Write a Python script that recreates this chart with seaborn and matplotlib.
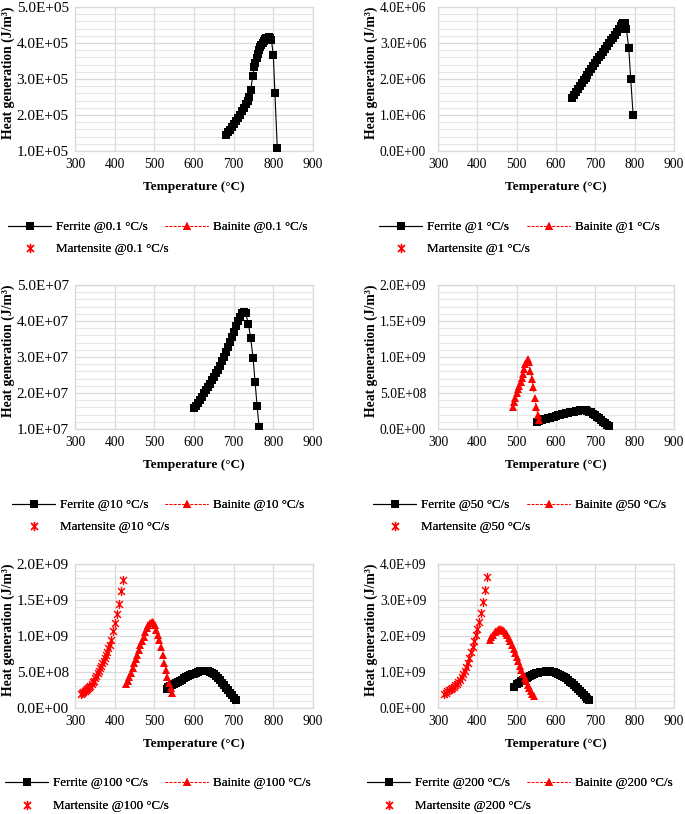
import numpy as np
import matplotlib
matplotlib.use("Agg")
import matplotlib.pyplot as plt
import seaborn as sns
from matplotlib.lines import Line2D
from matplotlib.path import Path
from matplotlib.ticker import MultipleLocator, AutoMinorLocator, FuncFormatter

# cooling rates shown in the six panels
rates = ["0.1", "1", "10", "50", "100", "200"]

# ferrite curves (temperature in C, heat generation in J/m3)
f01_T = [680, 685, 690, 695, 700, 705, 710, 715, 720, 725, 730, 735, 738, 743, 748, 752, 755,
         758, 761, 764, 767, 770, 773, 776, 779, 782, 785, 788, 791, 795, 800, 804, 810]
f01_q = [1.45e5, 1.52e5, 1.59e5, 1.67e5, 1.75e5, 1.83e5, 1.92e5, 2.01e5, 2.10e5, 2.20e5, 2.30e5,
         2.40e5, 2.50e5, 2.70e5, 3.08e5, 3.34e5, 3.45e5, 3.58e5, 3.70e5, 3.80e5, 3.88e5, 3.95e5,
         4.01e5, 4.06e5, 4.10e5, 4.13e5, 4.15e5, 4.16e5, 4.15e5, 4.09e5, 3.66e5, 2.60e5, 1.07e5]

f1_T = [640, 645, 650, 655, 660, 665, 670, 675, 680, 685, 690, 695, 700, 705, 710, 715, 720,
        725, 730, 735, 740, 745, 750, 755, 760, 765, 768, 771, 775, 779, 785, 790, 796]
f1_q = [1.48e6, 1.56e6, 1.64e6, 1.72e6, 1.80e6, 1.88e6, 1.96e6, 2.04e6, 2.12e6, 2.20e6, 2.28e6,
        2.36e6, 2.44e6, 2.52e6, 2.60e6, 2.68e6, 2.76e6, 2.84e6, 2.92e6, 3.00e6, 3.07e6, 3.14e6,
        3.22e6, 3.30e6, 3.39e6, 3.47e6, 3.53e6, 3.56e6, 3.56e6, 3.38e6, 2.86e6, 1.99e6, 1.01e6]

f10_T = [600, 605, 610, 615, 620, 625, 630, 635, 640, 645, 650, 655, 660, 665, 670, 675, 680,
         685, 690, 695, 700, 705, 710, 715, 720, 725, 730, 737, 743, 749, 754, 759, 764]
f10_q = [1.58e7, 1.65e7, 1.73e7, 1.81e7, 1.90e7, 1.99e7, 2.08e7, 2.17e7, 2.26e7, 2.35e7, 2.45e7,
         2.55e7, 2.65e7, 2.76e7, 2.88e7, 3.00e7, 3.13e7, 3.27e7, 3.41e7, 3.56e7, 3.70e7, 3.85e7,
         3.99e7, 4.12e7, 4.21e7, 4.25e7, 4.22e7, 3.92e7, 3.52e7, 2.96e7, 2.30e7, 1.65e7, 1.06e7]

f50_T = [552, 556, 560, 565, 570, 575, 580, 585, 590, 595, 600, 605, 610, 615, 620, 625, 630,
         635, 640, 645, 650, 655, 660, 665, 670, 675, 680, 685, 690, 695, 700, 705, 710, 715,
         720, 725, 730, 734]
f50_q = [0.100e9, 0.112e9, 0.120e9, 0.128e9, 0.135e9, 0.143e9, 0.150e9, 0.158e9, 0.165e9,
         0.173e9, 0.180e9, 0.188e9, 0.195e9, 0.203e9, 0.210e9, 0.217e9, 0.224e9, 0.231e9,
         0.237e9, 0.243e9, 0.248e9, 0.253e9, 0.257e9, 0.260e9, 0.260e9, 0.258e9, 0.252e9,
         0.243e9, 0.230e9, 0.214e9, 0.195e9, 0.173e9, 0.150e9, 0.126e9, 0.102e9, 0.080e9,
         0.060e9, 0.045e9]

f100_T = [532, 535, 540, 545, 550, 555, 560, 565, 570, 575, 580, 585, 590, 595, 600, 605, 610,
          615, 620, 625, 630, 635, 640, 645, 650, 655, 660, 665, 670, 675, 680, 685, 690, 695,
          700, 706]
f100_q = [0.270e9, 0.285e9, 0.300e9, 0.320e9, 0.335e9, 0.350e9, 0.365e9, 0.380e9, 0.395e9,
          0.410e9, 0.425e9, 0.440e9, 0.455e9, 0.467e9, 0.478e9, 0.490e9, 0.500e9, 0.508e9,
          0.515e9, 0.520e9, 0.520e9, 0.515e9, 0.505e9, 0.490e9, 0.470e9, 0.445e9, 0.415e9,
          0.385e9, 0.350e9, 0.315e9, 0.280e9, 0.245e9, 0.210e9, 0.175e9, 0.140e9, 0.110e9]

f200_T = [494, 500, 505, 510, 515, 520, 525, 530, 535, 540, 545, 550, 555, 560, 565, 570, 575,
          580, 585, 590, 595, 600, 605, 610, 615, 620, 625, 630, 635, 640, 645, 650, 655, 660,
          665, 670, 675, 680, 685]
f200_q = [0.59e9, 0.66e9, 0.70e9, 0.74e9, 0.78e9, 0.81e9, 0.84e9, 0.87e9, 0.90e9, 0.92e9,
          0.94e9, 0.96e9, 0.975e9, 0.99e9, 1.00e9, 1.01e9, 1.015e9, 1.02e9, 1.02e9, 1.01e9,
          1.00e9, 0.98e9, 0.955e9, 0.93e9, 0.895e9, 0.86e9, 0.82e9, 0.78e9, 0.735e9, 0.69e9,
          0.64e9, 0.59e9, 0.535e9, 0.48e9, 0.425e9, 0.37e9, 0.315e9, 0.26e9, 0.22e9]

# bainite curves
b50_T = [491, 494, 497, 501, 504, 507, 510, 513, 516, 519, 522, 525, 528, 531, 535, 539, 542,
         546, 550, 554, 558]
b50_q = [0.30e9, 0.37e9, 0.43e9, 0.50e9, 0.55e9, 0.60e9, 0.65e9, 0.71e9, 0.77e9, 0.84e9,
         0.90e9, 0.95e9, 0.97e9, 0.93e9, 0.81e9, 0.69e9, 0.58e9, 0.43e9, 0.30e9, 0.19e9, 0.125e9]

b100_T = [429, 433, 437, 441, 445, 449, 453, 457, 461, 465, 469, 473, 477, 481, 485, 489, 493,
          497, 501, 505, 509, 513, 517, 521, 525, 529, 533, 537, 541, 545]
b100_q = [0.33e9, 0.37e9, 0.43e9, 0.49e9, 0.55e9, 0.62e9, 0.68e9, 0.74e9, 0.80e9, 0.87e9,
          0.93e9, 0.99e9, 1.05e9, 1.11e9, 1.15e9, 1.18e9, 1.20e9, 1.19e9, 1.15e9, 1.09e9,
          1.02e9, 0.94e9, 0.85e9, 0.74e9, 0.63e9, 0.53e9, 0.43e9, 0.35e9, 0.28e9, 0.21e9]

b200_T = [432, 436, 440, 444, 448, 452, 456, 460, 464, 468, 472, 476, 480, 484, 488, 492, 496,
          500, 504, 508, 512, 516, 520, 524, 528, 532, 536, 540, 545]
b200_q = [1.89e9, 1.97e9, 2.04e9, 2.10e9, 2.15e9, 2.18e9, 2.20e9, 2.20e9, 2.18e9, 2.14e9,
          2.09e9, 2.03e9, 1.95e9, 1.86e9, 1.76e9, 1.65e9, 1.54e9, 1.42e9, 1.30e9, 1.18e9,
          1.06e9, 0.95e9, 0.84e9, 0.74e9, 0.64e9, 0.55e9, 0.47e9, 0.40e9, 0.32e9]

# martensite curves
m100_T = [315, 318, 321, 324, 327, 330, 333, 336, 339, 342, 345, 348, 351, 354, 357, 360, 363,
          366, 369, 372, 375, 378, 381, 384, 387, 391, 396, 400, 405, 410, 415, 420]
m100_q = [0.20e9, 0.21e9, 0.22e9, 0.235e9, 0.25e9, 0.265e9, 0.28e9, 0.295e9, 0.31e9, 0.33e9,
          0.355e9, 0.38e9, 0.41e9, 0.44e9, 0.48e9, 0.51e9, 0.55e9, 0.58e9, 0.62e9, 0.65e9,
          0.69e9, 0.73e9, 0.78e9, 0.83e9, 0.88e9, 0.95e9, 1.07e9, 1.18e9, 1.31e9, 1.45e9,
          1.62e9, 1.78e9]

m200_T = [316, 320, 324, 328, 332, 336, 340, 344, 348, 352, 356, 360, 364, 368, 372, 376, 380,
          384, 388, 392, 396, 400, 404, 409, 414, 419, 424]
m200_q = [0.40e9, 0.43e9, 0.46e9, 0.49e9, 0.52e9, 0.55e9, 0.59e9, 0.63e9, 0.67e9, 0.72e9,
          0.79e9, 0.86e9, 0.94e9, 1.03e9, 1.13e9, 1.25e9, 1.40e9, 1.55e9, 1.70e9, 1.86e9,
          2.03e9, 2.20e9, 2.39e9, 2.65e9, 2.95e9, 3.27e9, 3.63e9]

ferrite = [(f01_T, f01_q), (f1_T, f1_q), (f10_T, f10_q), (f50_T, f50_q), (f100_T, f100_q), (f200_T, f200_q)]
bainite = [None, None, None, (b50_T, b50_q), (b100_T, b100_q), (b200_T, b200_q)]
martensite = [None, None, None, None, (m100_T, m100_q), (m200_T, m200_q)]

# y axis ranges: (min, max, major step)
y_ranges = [(1e5, 5e5, 1e5), (0, 4e6, 1e6), (1e7, 5e7, 1e7),
            (0, 2e9, 5e8), (0, 2e9, 5e8), (0, 4e9, 1e9)]

sns.set_theme(style="white")
plt.rcParams['font.family'] = ['Liberation Serif', 'DejaVu Serif']

star = Path([(0, -1), (0, 1), (-0.75, -0.75), (0.75, 0.75), (-0.75, 0.75), (0.75, -0.75)],
            [Path.MOVETO, Path.LINETO] * 3)

W, H = 685, 814
fig = plt.figure(figsize=(W / 100, H / 100), dpi=100)

# axes boxes in pixels (left, top, right, bottom)
col_x = [(75, 313), (438, 674)]
row_y = [(7, 151), (285, 429), (564, 708)]
leg_rows = [(227, 249), (505, 527), (783, 806)]
leg_x = [[8, 379], [12, 373], [5, 367]]
bain_x = [165, 527]

SQ, TRI, STAR = 5.4, 6.2, 6.6

for i, rate in enumerate(rates):
    r, c = divmod(i, 2)
    x0, x1 = col_x[c]
    y0, y1 = row_y[r]
    ax = fig.add_axes([x0 / W, 1 - y1 / H, (x1 - x0) / W, (y1 - y0) / H])

    fT, fq = ferrite[i]
    sns.lineplot(x=fT, y=fq, ax=ax, color='black', marker='s', markersize=SQ,
                 markeredgewidth=0, linewidth=0.8, sort=False, estimator=None, zorder=3)
    if bainite[i] is not None:
        bT, bq = bainite[i]
        sns.lineplot(x=bT, y=bq, ax=ax, color='red', marker='^', markersize=TRI,
                     markeredgewidth=0, linewidth=0.75, linestyle=(0, (4, 3)),
                     sort=False, estimator=None, zorder=4)
    if martensite[i] is not None:
        mT, mq = martensite[i]
        sns.lineplot(x=mT, y=mq, ax=ax, color='red', marker=star, markersize=STAR,
                     markeredgecolor='red', markeredgewidth=1.0, linestyle='none',
                     sort=False, estimator=None, zorder=5)

    ymin, ymax, ystep = y_ranges[i]
    ax.set_xlim(300, 900)
    ax.set_ylim(ymin, ymax)
    ax.xaxis.set_major_locator(MultipleLocator(100))
    ax.yaxis.set_major_locator(MultipleLocator(ystep))
    ax.yaxis.set_minor_locator(AutoMinorLocator(5))
    ax.yaxis.set_major_formatter(FuncFormatter(lambda v, p: f"{v:.1E}"))
    ax.grid(which='major', color='#d9d9d9', linewidth=0.9)
    ax.grid(which='minor', axis='y', color='#e6e6e6', linewidth=0.8)
    ax.set_axisbelow(True)
    for s in ax.spines.values():
        s.set_color('#d9d9d9')
        s.set_linewidth(0.9)
    ax.tick_params(which='both', length=0, colors='black')
    ax.tick_params(axis='x', pad=5, labelsize=9.8)
    if c == 0:
        ax.tick_params(axis='y', pad=4.5, labelsize=11)
    else:
        ax.tick_params(axis='y', pad=8.5, labelsize=9.8)

    ax.set_xlabel("Temperature (°C)", fontsize=9.6, fontweight='bold', color='black', va='center')
    ax.xaxis.set_label_coords(0.5, -0.25)
    ax.set_ylabel("Heat generation (J/m³)", fontsize=9.8, fontweight='bold', color='black', va='center')
    ax.yaxis.set_label_coords((8 - x0) / (x1 - x0) if c == 0 else (371 - x0) / (x1 - x0), 0.54)

    # legend entries below each panel
    hf = Line2D([], [], color='black', marker='s', markersize=SQ, markeredgewidth=0, linewidth=0.8)
    hb = Line2D([], [], color='red', marker='^', markersize=TRI, markeredgewidth=0,
                linewidth=0.75, linestyle=(0, (2.5, 1.5)))
    hm = Line2D([], [], color='red', marker=star, markersize=STAR, markeredgecolor='red',
                markeredgewidth=1.0, linestyle='none')
    ly1, ly2 = leg_rows[r]
    entries = [(hf, f"Ferrite @{rate} °C/s", leg_x[r][c], ly1),
               (hb, f"Bainite @{rate} °C/s", bain_x[c], ly1),
               (hm, f"Martensite @{rate} °C/s", leg_x[r][c], ly2)]
    for h, lab, lx, ly in entries:
        leg = fig.legend(handles=[h], labels=[lab], loc='center left',
                         bbox_to_anchor=(lx / W, 1 - ly / H), frameon=False,
                         borderpad=0, borderaxespad=0, handlelength=3.3,
                         handletextpad=0.35, fontsize=9.4, labelcolor='black')
        fig.add_artist(leg)

fig.savefig("out.png", dpi=100)
